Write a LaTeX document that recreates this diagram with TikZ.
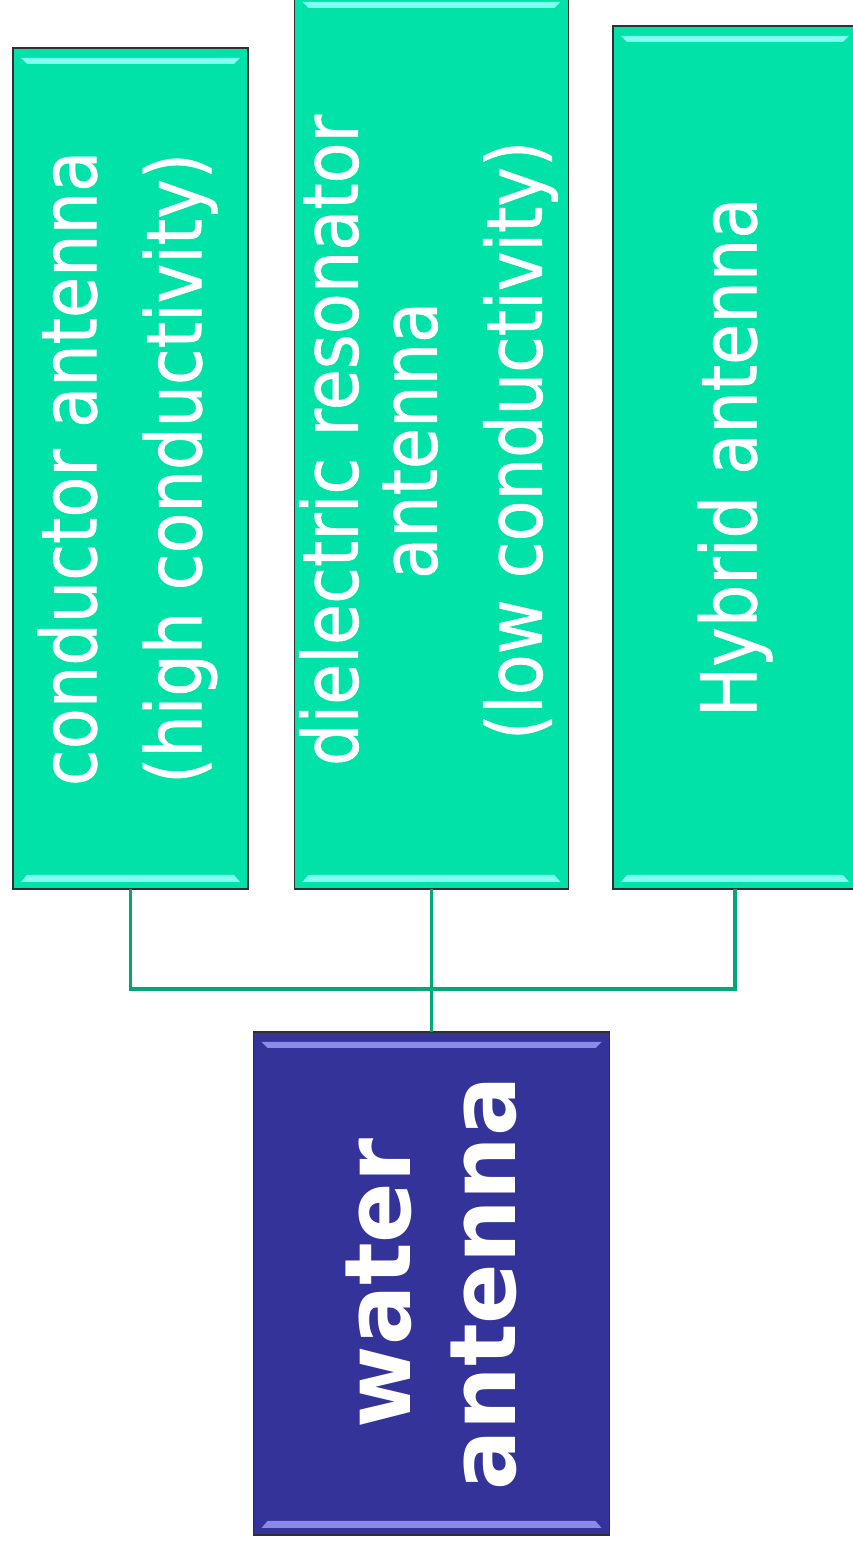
\documentclass[tikz,border=0pt]{standalone}
\usepackage{fontspec}
\newfontfamily\tfont[FakeStretch=0.87,FakeBold=0.8]{DejaVu Sans}
\newfontfamily\wfont[FakeStretch=0.97]{DejaVu Sans}
\definecolor{boxgreen}{HTML}{00E2A8}
\definecolor{hlgreen}{HTML}{80FFF0}
\definecolor{boxblue}{HTML}{333399}
\definecolor{hlblue}{HTML}{8A8AE8}
\definecolor{linegreen}{HTML}{00A878}
\definecolor{edgegray}{HTML}{303030}
\tikzset{
  bevel/.style={path picture={
    \fill[#1] ([xshift=8,yshift=-10]path picture bounding box.north west)
      -- ([xshift=-8,yshift=-10]path picture bounding box.north east)
      -- ([xshift=-14,yshift=-16]path picture bounding box.north east)
      -- ([xshift=14,yshift=-16]path picture bounding box.north west) -- cycle;
    \fill[#1] ([xshift=14,yshift=14]path picture bounding box.south west)
      -- ([xshift=-14,yshift=14]path picture bounding box.south east)
      -- ([xshift=-8,yshift=7]path picture bounding box.south east)
      -- ([xshift=8,yshift=7]path picture bounding box.south west) -- cycle;
  }},
  boxbase/.style={draw=edgegray, line width=1.8pt, inner sep=0pt, outer sep=0pt},
  gbox/.style={boxbase, fill=boxgreen, bevel=hlgreen},
  bbox/.style={boxbase, fill=boxblue, bevel=hlblue},
  lbl/.style={text=white, rotate=90, align=center, inner sep=0pt,
    font=\tfont\fontsize{77}{105}\selectfont},
  wlbl/.style={text=white, rotate=90, align=center, inner sep=0pt,
    font=\wfont\bfseries\fontsize{92}{105}\selectfont},
  conn/.style={draw=linegreen, line width=3.5pt}
}
\begin{document}
\begin{tikzpicture}[x=1pt,y=1pt]
\useasboundingbox (0,0) rectangle (852,1549);
\fill[white] (0,0) rectangle (852,1549);
% boxes
\node[gbox, minimum width=235pt, minimum height=841pt] (b1) at (130.5,1080.5) {};
\node[gbox, minimum width=274pt, minimum height=897pt] (b2) at (431.5,1108.5) {};
\node[gbox, minimum width=244pt, minimum height=863pt] (b3) at (735,1091.5) {};
\node[bbox, minimum width=356pt, minimum height=503pt] (b4) at (431.5,265.5) {};
% texts
\node[lbl] (t1) at ([xshift=-3pt]b1.center) {conductor antenna\\(high conductivity)};
\node[lbl] (t2) at ([xshift=-3pt]b2.center) {dielectric resonator\\[-26pt]antenna\\(low conductivity)};
\node[lbl] (t3) at (b3.center) {Hybrid antenna};
\node[wlbl] (t4) at (b4.center) {water\\antenna};
% connectors
\coordinate (j) at (431.5,560);
\draw[conn] (b1.south) |- (j) -| (b3.south);
\draw[conn] (b2.south) -- (b4.north);
\end{tikzpicture}
\end{document}
